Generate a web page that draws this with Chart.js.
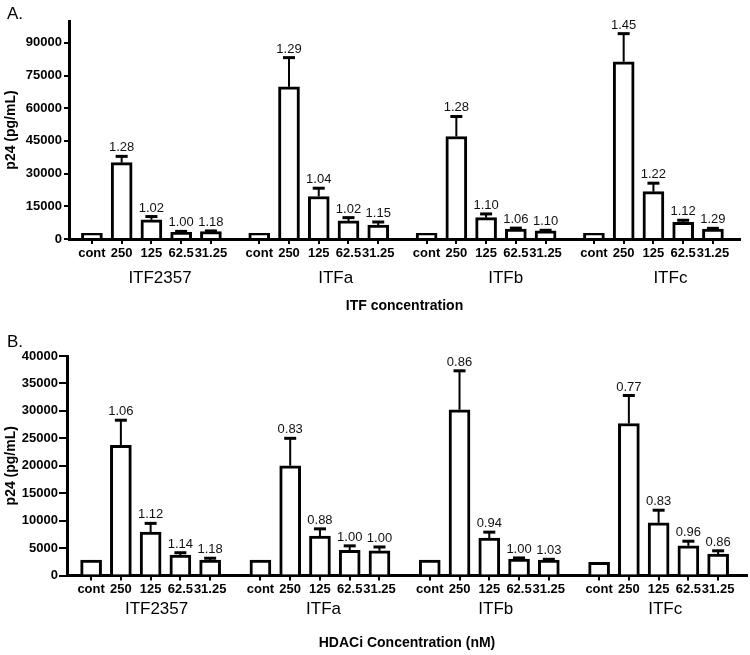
<!DOCTYPE html>
<html>
<head>
<meta charset="utf-8">
<script src="https://cdn.jsdelivr.net/npm/chart.js@4.4.0/dist/chart.umd.min.js"></script>
<style>
  body { margin: 0; background: #fff; }
  canvas { display: block; }
</style>
</head>
<body>
<canvas id="chartA" width="750" height="320"></canvas>
<canvas id="chartB" width="750" height="335"></canvas>
<script>
var groups = ["ITF2357", "ITFa", "ITFb", "ITFc"];
var concLabels = ["cont", "250", "125", "62.5", "31.25"];

// A. p24 (pg/mL), 4 groups x 5 concentrations
var p24A = [2600, 35000, 8800, 3100, 3400,
            2600, 69800, 19500, 8300, 6400,
            2600, 47000, 9800, 4600, 3700,
            2600, 81300, 21700, 7700, 4600];
var errA = [0, 2900, 1500, 400, 300,
            0, 13400, 3800, 1500, 1400,
            0, 9200, 1700, 400, 300,
            0, 12900, 3900, 900, 300];
var foldA = [null, 1.28, 1.02, 1.00, 1.18,
             null, 1.29, 1.04, 1.02, 1.15,
             null, 1.28, 1.10, 1.06, 1.10,
             null, 1.45, 1.22, 1.12, 1.29];
var yTicksA = [0, 15000, 30000, 45000, 60000, 75000, 90000];

// B. p24 (pg/mL)
var p24B = [2800, 23700, 7900, 3700, 2800,
            2800, 20000, 7200, 4600, 4500,
            2800, 30200, 6800, 3000, 2800,
            2400, 27700, 9600, 5400, 3900];
var errB = [0, 4600, 1600, 450, 350,
            0, 5000, 1300, 800, 700,
            0, 7100, 1100, 200, 150,
            0, 5100, 2300, 850, 600];
var foldB = [null, 1.06, 1.12, 1.14, 1.18,
             null, 0.83, 0.88, 1.00, 1.00,
             null, 0.86, 0.94, 1.00, 1.03,
             null, 0.77, 0.83, 0.96, 0.86];
var yTicksB = [0, 5000, 10000, 15000, 20000, 25000, 30000, 35000, 40000];

var FONT = "'Liberation Sans', Arial, Helvetica, sans-serif";
Chart.defaults.font.family = FONT;
Chart.defaults.color = "#000";

// draws the upward error bars, the fold numbers and the panel letter
function errorBarPlugin(values, errors, folds, letter, letterY) {
  return {
    id: "errorBars",
    afterDatasetsDraw: function (chart) {
      var ctx = chart.ctx;
      var y = chart.scales.y;
      var bars = chart.getDatasetMeta(0).data;
      ctx.save();
      ctx.strokeStyle = "#000";
      ctx.fillStyle = "#111";
      ctx.font = "13px " + FONT;
      ctx.textAlign = "center";
      ctx.textBaseline = "alphabetic";
      bars.forEach(function (bar, i) {
        var top = y.getPixelForValue(values[i]);
        var cap = y.getPixelForValue(values[i] + errors[i]);
        if (errors[i] > 0) {
          ctx.lineWidth = 2;
          ctx.beginPath();
          ctx.moveTo(bar.x, top);
          ctx.lineTo(bar.x, cap);
          ctx.stroke();
          ctx.lineWidth = 3;
          ctx.beginPath();
          ctx.moveTo(bar.x - 6, cap);
          ctx.lineTo(bar.x + 6, cap);
          ctx.stroke();
        }
        if (folds[i] != null) {
          ctx.fillText(folds[i].toFixed(2), bar.x, cap - 5);
        }
      });
      ctx.font = "17px " + FONT;
      ctx.textAlign = "left";
      ctx.textBaseline = "middle";
      ctx.fillStyle = "#000";
      ctx.fillText(letter, 7, letterY);
      ctx.restore();
    }
  };
}

function panel(id, o) {
  var xs = [], pts = [];
  for (var g = 0; g < groups.length; g++) {
    for (var i = 0; i < concLabels.length; i++) {
      var x = g * o.pitch + i;
      xs.push(x);
      pts.push({ x: x, y: o.values[g * concLabels.length + i] });
    }
  }
  var groupPos = groups.map(function (name, k) { return k * o.pitch + 2 + o.shift[k]; });

  return new Chart(id, {
    type: "bar",
    data: {
      datasets: [{
        data: pts,
        backgroundColor: "#fff",
        borderColor: "#000",
        borderWidth: 3,
        barThickness: 21
      }]
    },
    options: {
      responsive: false,
      animation: false,
      layout: { padding: { top: o.padTop, right: o.padRight, left: 0, bottom: 0 } },
      plugins: { legend: { display: false }, tooltip: { enabled: false } },
      scales: {
        x: {
          type: "linear", position: "bottom", min: o.xmin, max: o.xmax, offset: false,
          afterBuildTicks: function (s) { s.ticks = xs.map(function (v) { return { value: v }; }); },
          afterFit: function (s) { s.height = o.xh; },
          ticks: {
            autoSkip: false, maxRotation: 0, minRotation: 0, padding: o.xpad,
            font: { size: 13, weight: "bold" }, color: "#000",
            callback: function (v, i) { return concLabels[i % concLabels.length]; }
          },
          grid: { drawOnChartArea: false, offset: false, tickLength: 5, color: "#000", lineWidth: 2 },
          border: { color: "#000", width: 3 }
        },
        x2: {
          type: "linear", position: "bottom", min: o.xmin, max: o.xmax, offset: false,
          afterBuildTicks: function (s) { s.ticks = groupPos.map(function (v) { return { value: v }; }); },
          afterFit: function (s) { s.height = o.x2h; },
          ticks: {
            autoSkip: false, maxRotation: 0, minRotation: 0, padding: o.x2pad,
            font: { size: 17 }, color: "#000",
            callback: function (v, i) { return groups[i]; }
          },
          grid: { display: false, drawTicks: false, offset: false },
          border: { display: false },
          title: {
            display: true, text: o.xTitle, color: "#000",
            font: { size: 14, weight: "bold" },
            padding: { top: 0, bottom: o.titlePad }
          }
        },
        y: {
          min: 0, max: o.ymax,
          afterBuildTicks: function (s) { s.ticks = o.yTicks.map(function (v) { return { value: v }; }); },
          afterFit: function (s) { s.width = o.yw; },
          ticks: {
            padding: o.ypad, font: { size: 13, weight: "bold" }, color: "#000",
            callback: function (v) { return String(v); }
          },
          grid: { drawOnChartArea: false, tickLength: o.ytick, color: "#000", lineWidth: 2 },
          border: { color: "#000", width: 3 },
          title: {
            display: true, text: "p24 (pg/mL)", color: "#000",
            font: { size: 14, weight: "bold" },
            padding: { top: 3, bottom: 0 }
          }
        }
      }
    },
    plugins: [errorBarPlugin(o.values, o.errors, o.folds, o.letter, o.letterY)]
  });
}

panel("chartA", {
  values: p24A, errors: errA, folds: foldA, letter: "A.", letterY: 14,
  pitch: 5.625, xmin: -0.77, xmax: 21.785, shift: [0.29, 0.57, 0.66, 0.57],
  ymax: 100000, yTicks: yTicksA, ytick: 5, ypad: 2,
  padTop: 21, padRight: 10, yw: 69,
  xh: 26, xpad: 2, x2h: 55, x2pad: 3.5, titlePad: 5.6,
  xTitle: "ITF concentration"
});

panel("chartB", {
  values: p24B, errors: errB, folds: foldB, letter: "B.", letterY: 22,
  pitch: 5.69, xmin: -0.81, xmax: 22.04, shift: [0.2, 0.12, 0.22, 0.22],
  ymax: 40000, yTicks: yTicksB, ytick: 8, ypad: 1,
  padTop: 36, padRight: 3, yw: 67,
  xh: 20, xpad: 1, x2h: 59.5, x2pad: 4, titlePad: 3.6,
  xTitle: "HDACi Concentration (nM)"
});
</script>
</body>
</html>
